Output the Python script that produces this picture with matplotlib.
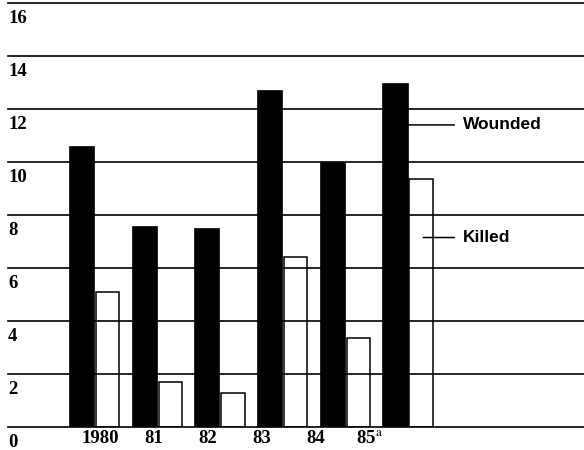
import matplotlib
matplotlib.use("Agg")
import matplotlib.pyplot as plt
import numpy as np
from matplotlib.transforms import offset_copy

# ---- data ----
years = ["1980", "81", "82", "83", "84", r"85$^{\rm a}$"]
wounded = [10.6, 7.6, 7.5, 12.7, 10.0, 13.0]
killed = [5.1, 1.7, 1.3, 6.4, 3.35, 9.35]
yticks = [0, 2, 4, 6, 8, 10, 12, 14, 16]
series_labels = ["Wounded", "Killed"]

plt.rcParams["mathtext.fontset"] = "stix"

fig = plt.figure(figsize=(5.84, 4.5), dpi=100)
ax = fig.add_axes([8 / 584, 23 / 450, 576 / 584, 424 / 450])

x = np.arange(len(years))
ax.set_xlim(-1.172, 8.014)
ax.set_ylim(0, 16)

# gridlines
for v in yticks:
    ax.axhline(v, color="black", lw=1.2, zorder=1, clip_on=False)

# bars
ax.bar(x - 0.2, wounded, width=0.40, align="edge", color="black",
       edgecolor="black", lw=0.5, zorder=3)
ax.bar(x + 0.23, killed, width=0.37, align="edge", facecolor="none",
       edgecolor="black", lw=1.1, zorder=2)

# y labels (below each gridline)
ytrans = offset_copy(ax.get_yaxis_transform(), fig=fig, x=0, y=-5, units="points")
for v in yticks:
    ax.text(0.0, v, str(v), transform=ytrans, ha="left", va="top",
            fontsize=13.5, family="Liberation Serif", fontweight="bold",
            clip_on=False)

# x labels
label_pos = 0.3 + 0.86 * x
ax.set_xticks(label_pos, years, fontsize=13.5, family="Liberation Serif",
              fontweight="bold")
ax.tick_params(axis="x", length=0, pad=2.5)
ax.set_yticks([])
for s in ax.spines.values():
    s.set_visible(False)

# series labels with leader lines
last = x[-1]
ax.annotate(series_labels[0], xy=(last + 0.2, 11.4), xytext=(last + 1.08, 11.4),
            va="center", ha="left", fontsize=12.5, family="Liberation Sans",
            fontweight="bold",
            arrowprops=dict(arrowstyle="-", color="black", lw=1.1,
                            shrinkA=4, shrinkB=0, relpos=(0, 0.5)),
            zorder=4)
ax.annotate(series_labels[1], xy=(last + 0.45, 7.15), xytext=(last + 1.08, 7.15),
            va="center", ha="left", fontsize=12.5, family="Liberation Sans",
            fontweight="bold",
            arrowprops=dict(arrowstyle="-", color="black", lw=1.1,
                            shrinkA=4, shrinkB=0, relpos=(0, 0.5)),
            zorder=4)

fig.savefig("out.png", dpi=100)
